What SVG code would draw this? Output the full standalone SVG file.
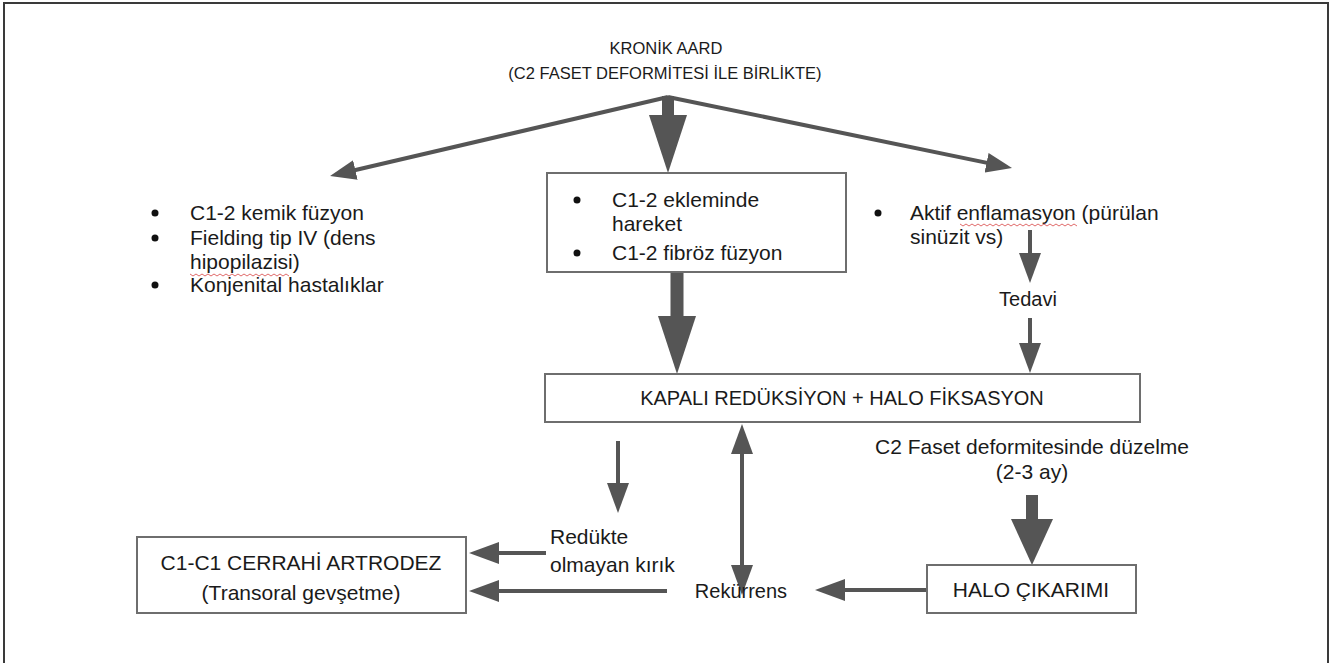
<svg xmlns="http://www.w3.org/2000/svg" width="1339" height="663" viewBox="0 0 1339 663">
<defs>
<style>
.t{font-family:"Liberation Sans",Arial,sans-serif;fill:#1a1a1a;font-size:21px}
.ti{font-family:"Liberation Sans",Arial,sans-serif;fill:#1a1a1a;font-size:16.5px}
.c{text-anchor:middle}
.box{fill:#fff;stroke:#6e6e6e;stroke-width:2}
.ln{stroke:#555;fill:none}
.thin{stroke-width:4}
.thick{stroke-width:12}
.bul{fill:#111}
.sq{fill:none;stroke:#e06a6a;stroke-width:1}
</style>
<marker id="hb" markerUnits="userSpaceOnUse" markerWidth="58" markerHeight="38" refX="28" refY="19" orient="auto"><path d="M0,0 L58,19 L0,38 z" fill="#555"/></marker>
<marker id="hb2" markerUnits="userSpaceOnUse" markerWidth="46" markerHeight="42" refX="20" refY="21" orient="auto"><path d="M0,0 L46,21 L0,42 z" fill="#555"/></marker>
<marker id="hm" markerUnits="userSpaceOnUse" markerWidth="30" markerHeight="22" refX="15" refY="11" orient="auto-start-reverse"><path d="M0,0 L30,11 L0,22 z" fill="#555"/></marker>
<marker id="hs" markerUnits="userSpaceOnUse" markerWidth="26" markerHeight="20" refX="13" refY="10" orient="auto"><path d="M0,0 L26,10 L0,20 z" fill="#555"/></marker>
</defs>
<rect width="1339" height="663" fill="#fff"/>
<path d="M4,663 L4,3 L1328,3 L1328,663" fill="none" stroke="#3a3a3a" stroke-width="2"/>

<g id="connectors">
<line class="ln thin" x1="668" y1="97" x2="342.7" y2="173" marker-end="url(#hs)"/>
<line class="ln thin" x1="668" y1="97" x2="999.3" y2="165.4" marker-end="url(#hs)"/>
<line class="ln thick" x1="668" y1="96" x2="668" y2="143" marker-end="url(#hb)"/>
<line class="ln" stroke-width="13" x1="677" y1="272" x2="677" y2="344" marker-end="url(#hb)"/>
<line class="ln thin" x1="1030" y1="230" x2="1030" y2="268" marker-end="url(#hm)"/>
<line class="ln thin" x1="1030" y1="318" x2="1030" y2="358" marker-end="url(#hm)"/>
<line class="ln thin" x1="618" y1="441" x2="618" y2="498" marker-end="url(#hm)"/>
<line class="ln thin" x1="742" y1="439" x2="742" y2="580" marker-start="url(#hm)" marker-end="url(#hm)"/>
<line class="ln" stroke-width="12" x1="1032" y1="495" x2="1032" y2="539" marker-end="url(#hb2)"/>
<line class="ln thin" x1="927" y1="590" x2="830" y2="590" marker-end="url(#hm)"/>
<line class="ln thin" x1="546" y1="553" x2="484" y2="553" marker-end="url(#hm)"/>
<line class="ln thin" x1="667" y1="591" x2="484" y2="591" marker-end="url(#hm)"/>
</g>

<g id="title">
<text class="ti c" x="666" y="54">KRONİK AARD</text>
<text class="ti c" x="665" y="79">(C2 FASET DEFORMİTESİ İLE BİRLİKTE)</text>
</g>

<g id="left-list">
<circle class="bul" cx="155" cy="213" r="3.5"/>
<circle class="bul" cx="155" cy="238" r="3.5"/>
<circle class="bul" cx="155" cy="285" r="3.5"/>
<text class="t" x="190" y="220">C1-2 kemik füzyon</text>
<text class="t" x="190" y="245">Fielding tip IV (dens</text>
<text class="t" x="190" y="269">hipopilazisi)</text>
<text class="t" x="190" y="292">Konjenital hastalıklar</text>
<path class="sq" d="M190,274 l3,2 l3,-2 l3,2 l3,-2 l3,2 l3,-2 l3,2 l3,-2 l3,2 l3,-2 l3,2 l3,-2 l3,2 l3,-2 l3,2 l3,-2 l3,2 l3,-2 l3,2 l3,-2 l3,2 l3,-2 l3,2 l3,-2 l3,2 l3,-2 l3,2 l3,-2 l3,2 l3,-2 l3,2 l3,-2 l3,2"/>
</g>

<g id="center-box">
<rect class="box" x="547" y="173" width="299" height="99"/>
<circle class="bul" cx="577" cy="200" r="3.5"/>
<circle class="bul" cx="577" cy="253" r="3.5"/>
<text class="t" x="612" y="207">C1-2 ekleminde</text>
<text class="t" x="612" y="231">hareket</text>
<text class="t" x="612" y="260">C1-2 fibröz füzyon</text>
</g>

<g id="right-list">
<circle class="bul" cx="878" cy="213" r="3.5"/>
<text class="t" x="910" y="220">Aktif enflamasyon (pürülan</text>
<text class="t" x="910" y="244">sinüzit vs)</text>
<path class="sq" d="M960,224 l3,2 l3,-2 l3,2 l3,-2 l3,2 l3,-2 l3,2 l3,-2 l3,2 l3,-2 l3,2 l3,-2 l3,2 l3,-2 l3,2 l3,-2 l3,2 l3,-2 l3,2 l3,-2 l3,2 l3,-2 l3,2 l3,-2 l3,2 l3,-2 l3,2 l3,-2 l3,2 l3,-2 l3,2 l3,-2 l3,2 l3,-2 l3,2 l3,-2 l3,2 l3,-2 l3,2"/>
</g>

<g id="tedavi">
<text class="t c" x="1028" y="306" style="font-size:20px">Tedavi</text>
</g>

<g id="kapali">
<rect class="box" x="545" y="374" width="595" height="48"/>
<text class="t c" x="842" y="405" style="font-size:20px">KAPALI REDÜKSİYON + HALO FİKSASYON</text>
</g>

<g id="duzelme">
<text class="t c" x="1032" y="454">C2 Faset deformitesinde düzelme</text>
<text class="t c" x="1032" y="479">(2-3 ay)</text>
</g>

<g id="redukte">
<text class="t" x="550" y="544">Redükte</text>
<text class="t" x="550" y="572">olmayan kırık</text>
</g>

<g id="rekurrens">
<text class="t c" x="741" y="598" style="font-size:20px">Rekürrens</text>
</g>

<g id="cerrahi">
<rect class="box" x="137" y="537" width="329" height="76"/>
<text class="t c" x="301" y="570">C1-C1 CERRAHİ ARTRODEZ</text>
<text class="t c" x="301" y="600">(Transoral gevşetme)</text>
</g>

<g id="halo">
<rect class="box" x="927" y="565" width="209" height="48"/>
<text class="t c" x="1031" y="597">HALO ÇIKARIMI</text>
</g>
</svg>
